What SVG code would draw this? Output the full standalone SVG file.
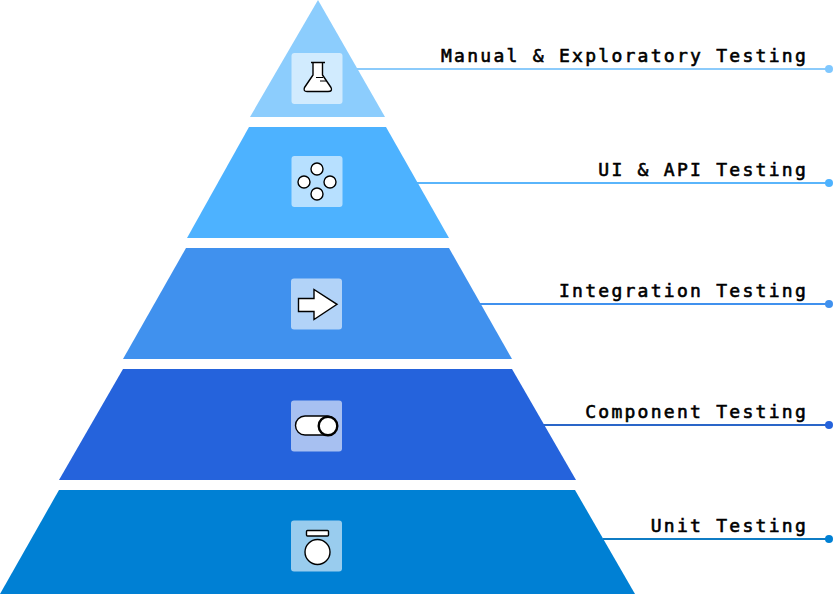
<svg xmlns="http://www.w3.org/2000/svg" width="833" height="594" viewBox="0 0 833 594">
<style>
.bg{fill:#fff;fill-opacity:.6}
.ic{fill:#fff;stroke:#000;stroke-width:1.4}
.lb{font-family:"DejaVu Sans Mono","Liberation Mono",monospace;font-size:18px;font-weight:400;letter-spacing:2.27px;fill:#000;stroke:#000;stroke-width:.6;text-anchor:end}
.ln{stroke-width:2;fill:none}
</style>
<rect width="833" height="594" fill="#fff"/>
<g id="connectors">
<path class="ln" stroke="#8ccbfb" d="M357 69H829"/><circle cx="829" cy="69" r="4" fill="#80c8ff"/>
<path class="ln" stroke="#5ab5fb" d="M416 183H829"/><circle cx="829" cy="183" r="4" fill="#4db2ff"/>
<path class="ln" stroke="#4091ee" d="M479 304H829"/><circle cx="829" cy="304" r="4" fill="#4091ee"/>
<path class="ln" stroke="#2a66c8" d="M543 425H829"/><circle cx="829" cy="425" r="4" fill="#2563dc"/>
<path class="ln" stroke="#0f7cc4" d="M603 539H829"/><circle cx="829" cy="539" r="4" fill="#0080d4"/>
</g>
<g id="manual">
<polygon points="318,0 385,117 250,117" fill="#8ccdfd"/>
<rect class="bg" x="291.500" y="53" width="51" height="51" rx="3"/>
<path class="ic" d="M313 62.500V75L304.500 87.500Q303 91.500 307 91.500H328Q333 91.500 331 87.500L322.500 75V62.500" stroke-linejoin="round"/>
<path d="M311 62.500H325" stroke="#000" stroke-width="1.500" fill="none"/>
<path d="M316 77.500H323M320 81H326" stroke="#000" stroke-width="1" fill="none"/>
<text class="lb" x="808" y="62">Manual &amp; Exploratory Testing</text>
</g>
<g id="ui-api">
<polygon points="249,127 386,127 449,238 187,238" fill="#4db2ff"/>
<rect class="bg" x="291.500" y="156" width="51" height="51" rx="3"/>
<circle class="ic" cx="317" cy="169" r="6"/><circle class="ic" cx="304" cy="182" r="6"/><circle class="ic" cx="330" cy="182" r="6"/><circle class="ic" cx="317" cy="194" r="6"/>
<text class="lb" x="808" y="176">UI &amp; API Testing</text>
</g>
<g id="integration">
<polygon points="186,248 449,248 512,359 123,359" fill="#4091ee"/>
<rect class="bg" x="291" y="278.500" width="51" height="51" rx="3"/>
<path class="ic" d="M298.500 298.500H314V289.500L337 304.300L314 319.500V311.500H298.500Z"/>
<text class="lb" x="808" y="297">Integration Testing</text>
</g>
<g id="component">
<polygon points="123,369 512,369 576,480 59,480" fill="#2563dc"/>
<rect class="bg" x="291" y="400.500" width="51" height="51" rx="3"/>
<rect class="ic" x="295.500" y="416" width="41" height="19" rx="9.500"/>
<circle cx="328" cy="426" r="9.300" fill="#fff" stroke="#000" stroke-width="2.400"/>
<text class="lb" x="808" y="418">Component Testing</text>
</g>
<g id="unit">
<polygon points="59,490 575,490 635,594 0,594" fill="#0080d4"/>
<rect class="bg" x="291" y="520.500" width="51" height="51" rx="3"/>
<rect class="ic" x="306.500" y="530.500" width="22" height="5.500" rx="1"/>
<circle class="ic" cx="317.500" cy="552" r="12.500"/>
<text class="lb" x="808" y="532">Unit Testing</text>
</g>
</svg>
